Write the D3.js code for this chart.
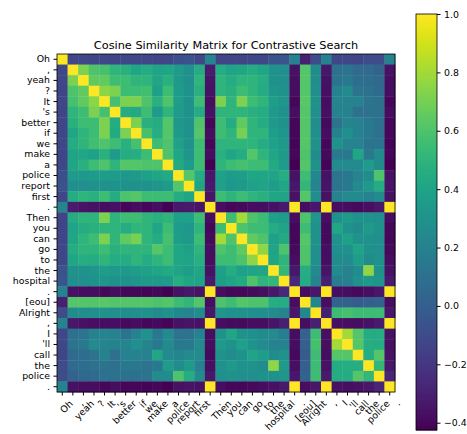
<!DOCTYPE html>
<html>
<head>
<meta charset="utf-8">
<title>Cosine Similarity Matrix for Contrastive Search</title>
<script src="https://cdn.jsdelivr.net/npm/d3@7"></script>
<style>
  body { margin: 0; background: #fff; }
  svg { display: block; font-family: "DejaVu Sans", sans-serif; }
</style>
</head>
<body>
<svg width="467" height="434"></svg>
<script>
    // tokens of the dialogue, same order on both axes
    const tokens = ["Oh", ",", "yeah", "?", "It", "'s", "better", "if", "we", "make", "a",
        "police", "report", "first", ".", "Then", "you", "can", "go", "to", "the", "hospital",
        ".", "[eou]", "Alright", ",", "I", "'ll", "call", "the", "police", "."];

    // lower triangle of the similarity matrix (row i holds columns 0..i-1), diagonal is 1
    const lowerRows = [
        [],
        [-0.12],
        [-0.12, 0.72],
        [-0.13, 0.60, 0.65],
        [-0.12, 0.58, 0.65, 0.75],
        [-0.13, 0.50, 0.56, 0.72, 0.58],
        [-0.12, 0.48, 0.55, 0.55, 0.72, 0.45],
        [-0.12, 0.42, 0.50, 0.55, 0.72, 0.44, 0.72],
        [-0.12, 0.45, 0.50, 0.57, 0.60, 0.56, 0.48, 0.58],
        [-0.13, 0.40, 0.42, 0.38, 0.48, 0.35, 0.45, 0.46, 0.55],
        [-0.12, 0.42, 0.48, 0.55, 0.60, 0.50, 0.62, 0.62, 0.60, 0.60],
        [-0.08, 0.35, 0.34, 0.35, 0.36, 0.35, 0.33, 0.34, 0.38, 0.42, 0.44],
        [-0.06, 0.28, 0.28, 0.30, 0.30, 0.30, 0.30, 0.30, 0.30, 0.32, 0.35, 0.62],
        [-0.12, 0.45, 0.50, 0.48, 0.55, 0.45, 0.60, 0.62, 0.55, 0.55, 0.55, 0.45, 0.42],
        [0.22, -0.32, -0.35, -0.36, -0.38, -0.36, -0.40, -0.38, -0.40, -0.38, -0.42, -0.34, -0.33, -0.35],
        [-0.14, 0.45, 0.50, 0.50, 0.72, 0.50, 0.55, 0.56, 0.50, 0.48, 0.50, 0.38, 0.38, 0.55, -0.38],
        [-0.14, 0.40, 0.45, 0.48, 0.50, 0.50, 0.45, 0.50, 0.50, 0.42, 0.55, 0.35, 0.33, 0.50, -0.40, 0.55],
        [-0.13, 0.42, 0.50, 0.55, 0.72, 0.50, 0.65, 0.70, 0.50, 0.45, 0.58, 0.36, 0.34, 0.55, -0.39, 0.80, 0.60],
        [-0.12, 0.45, 0.50, 0.50, 0.55, 0.48, 0.50, 0.50, 0.50, 0.62, 0.55, 0.42, 0.38, 0.50, -0.38, 0.60, 0.55, 0.65],
        [-0.12, 0.42, 0.46, 0.45, 0.50, 0.45, 0.45, 0.50, 0.45, 0.50, 0.55, 0.42, 0.40, 0.48, -0.38, 0.55, 0.55, 0.60, 0.76],
        [-0.06, 0.30, 0.30, 0.32, 0.36, 0.34, 0.34, 0.36, 0.38, 0.42, 0.44, 0.40, 0.36, 0.42, -0.36, 0.38, 0.45, 0.38, 0.40, 0.42],
        [-0.05, 0.28, 0.28, 0.30, 0.32, 0.30, 0.30, 0.32, 0.34, 0.34, 0.35, 0.46, 0.42, 0.40, -0.33, 0.36, 0.40, 0.44, 0.60, 0.50, 0.52],
        [0.20, -0.36, -0.38, -0.38, -0.40, -0.38, -0.40, -0.40, -0.41, -0.40, -0.42, -0.36, -0.34, -0.36, 1.00, -0.38, -0.40, -0.40, -0.39, -0.38, -0.34, -0.26],
        [-0.30, 0.62, 0.62, 0.62, 0.63, 0.62, 0.62, 0.62, 0.62, 0.60, 0.62, 0.55, 0.52, 0.62, -0.38, 0.60, 0.56, 0.62, 0.60, 0.60, 0.46, 0.45, -0.38],
        [-0.10, 0.26, 0.27, 0.28, 0.30, 0.28, 0.27, 0.28, 0.30, 0.26, 0.30, 0.24, 0.22, 0.27, -0.34, 0.32, 0.30, 0.30, 0.28, 0.28, 0.25, 0.22, -0.34, 0.24],
        [0.20, -0.34, -0.36, -0.37, -0.38, -0.37, -0.39, -0.38, -0.40, -0.39, -0.41, -0.36, -0.35, -0.36, 1.00, -0.38, -0.39, -0.39, -0.38, -0.38, -0.35, -0.30, 1.00, -0.38, -0.30],
        [-0.12, 0.10, 0.12, 0.20, 0.22, 0.20, 0.12, 0.20, 0.30, 0.14, 0.25, 0.12, 0.12, 0.20, -0.38, 0.30, 0.42, 0.30, 0.28, 0.26, 0.25, 0.18, -0.38, 0.02, 0.56, -0.37],
        [-0.12, 0.12, 0.15, 0.25, 0.22, 0.20, 0.22, 0.28, 0.22, 0.15, 0.25, 0.15, 0.15, 0.25, -0.38, 0.34, 0.30, 0.38, 0.30, 0.25, 0.20, 0.20, -0.38, 0.00, 0.58, -0.37, 0.80],
        [-0.13, 0.06, 0.08, 0.12, 0.20, 0.10, 0.20, 0.20, 0.20, 0.42, 0.25, 0.22, 0.25, 0.25, -0.39, 0.30, 0.26, 0.30, 0.40, 0.36, 0.26, 0.30, -0.39, -0.02, 0.56, -0.38, 0.62, 0.62],
        [-0.10, 0.06, 0.08, 0.10, 0.12, 0.10, 0.15, 0.15, 0.12, 0.15, 0.35, 0.26, 0.34, 0.20, -0.37, 0.30, 0.34, 0.30, 0.30, 0.26, 0.76, 0.34, -0.37, 0.00, 0.55, -0.36, 0.45, 0.46, 0.46],
        [-0.10, 0.02, 0.05, 0.06, 0.10, 0.10, 0.10, 0.10, 0.12, 0.25, 0.26, 0.60, 0.45, 0.25, -0.34, 0.28, 0.30, 0.28, 0.28, 0.30, 0.30, 0.32, -0.34, 0.02, 0.56, -0.33, 0.45, 0.45, 0.62, 0.52],
        [0.20, -0.36, -0.38, -0.38, -0.40, -0.38, -0.40, -0.40, -0.41, -0.40, -0.42, -0.36, -0.35, -0.36, 1.00, -0.38, -0.40, -0.40, -0.39, -0.38, -0.36, -0.33, 1.00, -0.38, -0.34, 1.00, -0.36, -0.37, -0.36, -0.34, -0.28]
    ];

    const cbarTicks = [-0.4, -0.2, 0.0, 0.2, 0.4, 0.6, 0.8, 1.0];

    // full symmetric matrix as cells
    const n = tokens.length;
    const cells = [];
    for (let i = 0; i < n; i++) {
        for (let j = 0; j < n; j++) {
            let v;
            if (i === j) v = 1;
            else if (j < i) v = lowerRows[i][j];
            else v = lowerRows[j][i];
            cells.push({row: i, col: j, value: v});
        }
    }

    const svg = d3.select("svg");
    const mapLeft = 57, mapTop = 54, mapSize = 338;
    const vMin = -0.425, vMax = 1.0;

    const x = d3.scaleBand().domain(d3.range(n)).range([mapLeft, mapLeft + mapSize]);
    const y = d3.scaleBand().domain(d3.range(n)).range([mapTop, mapTop + mapSize]);
    const color = d3.scaleSequential(d3.interpolateViridis).domain([vMin, vMax]);

    svg.append("g").selectAll("rect").data(cells).enter().append("rect")
        .attr("x", d => x(d.col))
        .attr("y", d => y(d.row))
        .attr("width", x.bandwidth() + 0.4)
        .attr("height", y.bandwidth() + 0.4)
        .attr("fill", d => color(d.value));

    svg.append("rect")
        .attr("x", mapLeft).attr("y", mapTop)
        .attr("width", mapSize).attr("height", mapSize)
        .attr("fill", "none").attr("stroke", "#000").attr("stroke-width", 0.8);

    // y axis
    const yAxis = svg.append("g")
        .attr("transform", "translate(" + mapLeft + ",0)")
        .call(d3.axisLeft(y).tickFormat(i => tokens[i]).tickSize(3.5).tickPadding(3.5));
    yAxis.select(".domain").remove();
    yAxis.selectAll("text").attr("font-size", 9.4).attr("font-family", "DejaVu Sans").attr("fill", "#000");

    // x axis, labels turned 45 degrees
    const xAxis = svg.append("g")
        .attr("transform", "translate(0," + (mapTop + mapSize) + ")")
        .call(d3.axisBottom(x).tickFormat(i => tokens[i]).tickSize(3.5).tickPadding(3.5));
    xAxis.select(".domain").remove();
    xAxis.selectAll("text")
        .attr("font-size", 9.4)
        .attr("font-family", "DejaVu Sans")
        .attr("fill", "#000")
        .attr("text-anchor", "end")
        .attr("dy", "0.5em")
        .attr("transform", "translate(3,4) rotate(-45)");

    svg.append("text")
        .attr("x", mapLeft + mapSize / 2)
        .attr("y", 49)
        .attr("text-anchor", "middle")
        .attr("font-size", 11.3)
        .attr("fill", "#000")
        .text("Cosine Similarity Matrix for Contrastive Search");

    // colorbar
    const cbX = 416, cbW = 21, cbTop = 14, cbBottom = 430;
    const cy = d3.scaleLinear().domain([vMin, vMax]).range([cbBottom, cbTop]);
    const steps = d3.range(0, 208);
    svg.append("g").selectAll("rect").data(steps).enter().append("rect")
        .attr("x", cbX)
        .attr("y", s => cbBottom - (s + 1) * (cbBottom - cbTop) / steps.length)
        .attr("width", cbW)
        .attr("height", (cbBottom - cbTop) / steps.length + 0.5)
        .attr("fill", s => color(vMin + (s + 0.5) / steps.length * (vMax - vMin)));
    svg.append("rect")
        .attr("x", cbX).attr("y", cbTop)
        .attr("width", cbW).attr("height", cbBottom - cbTop)
        .attr("fill", "none").attr("stroke", "#000").attr("stroke-width", 0.8);

    const cbAxis = svg.append("g")
        .attr("transform", "translate(" + (cbX + cbW) + ",0)")
        .call(d3.axisRight(cy).tickValues(cbarTicks).tickFormat(d3.format(".1f")).tickSize(3.5).tickPadding(3.5));
    cbAxis.select(".domain").remove();
    cbAxis.selectAll("text").attr("font-size", 9.4).attr("font-family", "DejaVu Sans").attr("fill", "#000");
</script>
</body>
</html>
